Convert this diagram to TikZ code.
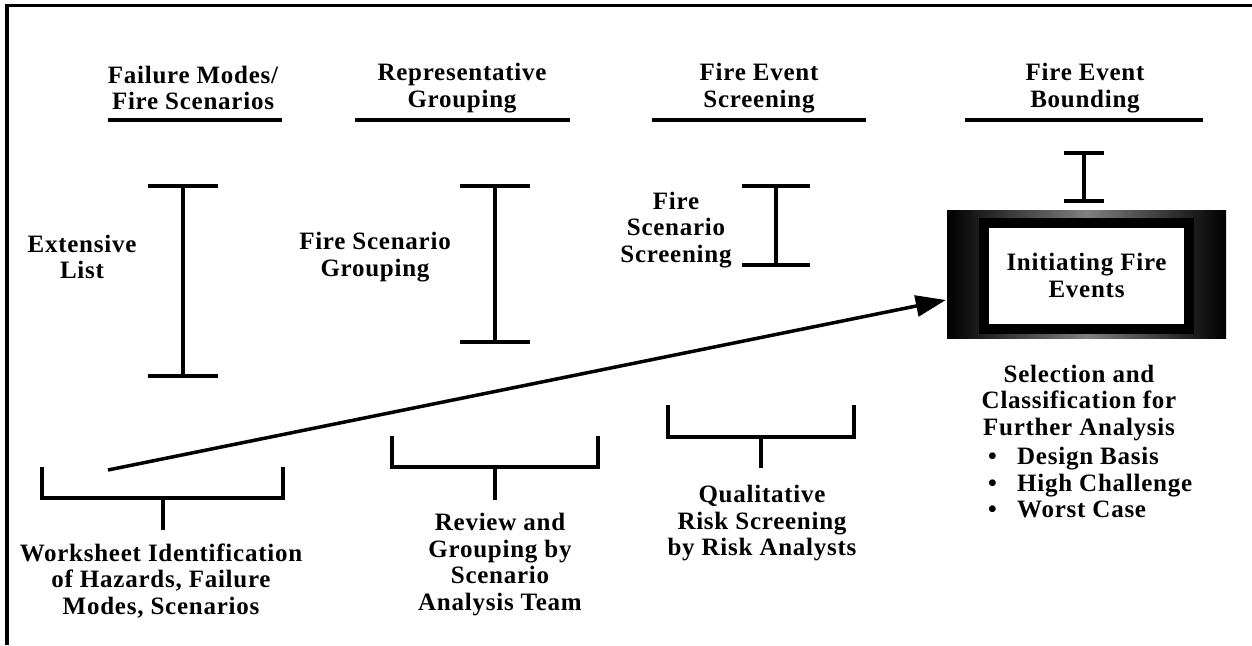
\documentclass[tikz,border=0pt]{standalone}
\usepackage{fontspec}
\setmainfont{Liberation Serif}[LetterSpace=3]
\usetikzlibrary{arrows.meta, calc}

\begin{document}
\begin{tikzpicture}[x=1pt, y=-1pt,
    lbl/.style={font=\bfseries\fontsize{25}{26.5}\selectfont, align=center, inner sep=0pt},
    bar/.style={line width=4pt},
    flow/.style={line width=3.5pt, -{Triangle[length=30pt, width=21pt]}}]
  \useasboundingbox (0,0) rectangle (1252,645);
  \draw[line width=3.5pt] (1252,5.5) -- (7,5.5) -- (7,645);

  % column headings and their rules
  \node[lbl] (hdFail)   at (193,88)  {Failure Modes/\\Fire Scenarios};
  \node[lbl] (hdGroup)  at (462,88)  {Representative\\Grouping};
  \node[lbl] (hdScreen) at (759,88)  {Fire Event\\Screening};
  \node[lbl] (hdBound)  at (1085,88) {Fire Event\\Bounding};
  \foreach \xa/\xb in {108/282, 355/570, 652/866, 965/1203}
    \draw[bar] (\xa,120) -- (\xb,120);

  % I-beams
  \foreach \x/\ya/\yb/\w in {183/186/376/35, 495/186/342/35, 776/186/265/34, 1084/153/201/20}
    \draw[bar] ({\x-\w},\ya) -- ({\x+\w},\ya) (\x,\ya) -- (\x,\yb) ({\x-\w},\yb) -- ({\x+\w},\yb);
  \node[lbl] (extList)   at (82,257)  {Extensive\\List};
  \node[lbl] (scnGroup)  at (375,257) {Fire Scenario\\Grouping};
  \node[lbl] (scnScreen) at (676,230) {Fire\\Scenario\\Screening};

  % brackets
  \foreach \xa/\xb/\y/\h/\s in {42/283/498/31/32, 392/598/467/31/33, 668/854/437/32/31}
    \draw[bar] (\xa,{\y-\h}) -- (\xa,\y) -- (\xb,\y) -- (\xb,{\y-\h})
      ({(\xa+\xb)/2},\y) -- ({(\xa+\xb)/2},{\y+\s});
  \node[lbl] (worksheet) at (161,581)   {Worksheet Identification\\of Hazards, Failure\\Modes, Scenarios};
  \node[lbl] (review)    at (500,564.5) {Review and\\Grouping by\\Scenario\\Analysis Team};
  \node[lbl] (qualRisk)  at (762,523.5) {Qualitative\\Risk Screening\\by Risk Analysts};

  % initiating events box
  \node[left color=black, right color=black, middle color=black!50,
        minimum width=279pt, minimum height=128pt, inner sep=0pt] (initFrame) at (1086.5,274) {};
  \node[lbl, draw, line width=10pt, fill=white, minimum width=205pt, minimum height=106pt]
    (initBox) at (1086.5,275.5) {Initiating Fire\\Events};
  \node[lbl] (selection) at (1079,403) {Selection and\\Classification for\\Further Analysis};
  \node[lbl, align=left, anchor=west] (cases) at (988,483)
    {\makebox[29pt][l]{\textbullet}Design Basis\\\makebox[29pt][l]{\textbullet}High Challenge\\\makebox[29pt][l]{\textbullet}Worst Case};

  \coordinate (wsTail) at (108,470);
  \draw[flow] (wsTail) -- ($(initFrame.west)+(-1,26)$);
\end{tikzpicture}
\end{document}
